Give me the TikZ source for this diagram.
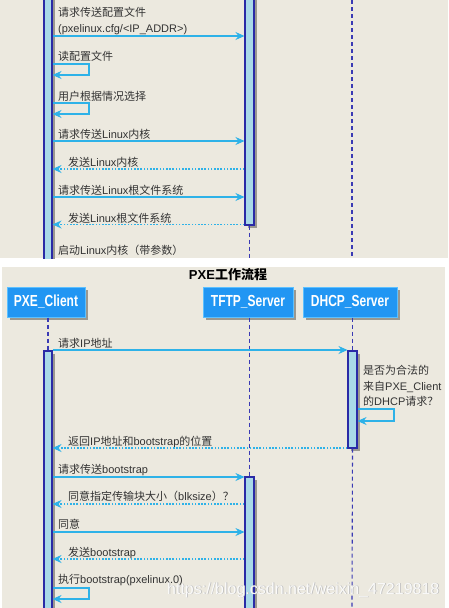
\documentclass[tikz,border=0pt]{standalone}
\usepackage{fontspec}
\setmainfont{Liberation Sans}
\newfontfamily\cjk{Noto Sans CJK SC}
\newfontfamily\boxfont{Liberation Sans}[FakeStretch=0.75]
\usetikzlibrary{arrows.meta,fit,shadows}
\definecolor{bg}{HTML}{ECE9DF}
\definecolor{msgc}{HTML}{2EB2E8}
\definecolor{barfill}{HTML}{A9D9E8}
\definecolor{bardraw}{HTML}{2A2AA6}
\definecolor{lifec}{HTML}{3A3AB4}
\definecolor{partfill}{HTML}{2196F3}
\definecolor{partdraw}{HTML}{5CC0FF}
\definecolor{txt}{HTML}{333333}
\definecolor{shadowc}{HTML}{9A9890}
\newcommand\zh[1]{{\cjk #1}}
\tikzset{
  lbl/.style={anchor=base west, inner sep=0pt, text=txt, font=\fontsize{11}{13}\selectfont},
  msg/.style={draw=msgc, line width=1.1pt, -{Stealth[length=9pt,width=8pt,inset=3pt]}},
  reply/.style={msg, dash pattern=on 1.6pt off 1.6pt},
  life/.style={draw=lifec, line width=1.1pt, dash pattern=on 4pt off 3pt},
  actbar/.style={draw=bardraw, fill=barfill, line width=1.1pt, inner sep=0pt},
  part/.style={draw=partdraw, fill=partfill, line width=1pt, text=white, inner sep=0pt,
    minimum height=30pt, font=\boxfont\bfseries\fontsize{16}{18}\selectfont,
    drop shadow={shadow xshift=3pt, shadow yshift=-3pt, fill=shadowc, opacity=1}},
  wmark/.style={anchor=base west, inner sep=0pt, font=\fontsize{16}{18}\selectfont}
}
\begin{document}
\begin{tikzpicture}[x=1pt,y=-1pt]
\useasboundingbox (0,0) rectangle (448,608);
\fill[white] (0,0) rectangle (448,608);
% ---------- top panel ----------
\fill[bg] (0,0) rectangle (448,258);
\begin{scope}
\clip (0,0) rectangle (448,258);
\fill[shadowc] (47,-7) rectangle (55,270);
\node[actbar, fit={(44,-10) (52,270)}] (cb1) {};
\fill[shadowc] (248,-7) rectangle (257,228);
\node[actbar, fit={(245,-10) (254,225)}] (tb1) {};
\coordinate (tl1) at (249.5,258);
\draw[life] (tb1.south) -- (tl1);
\coordinate (dl1a) at (352,0);
\coordinate (dl1b) at (352,258);
\draw[life] (dl1a) -- (dl1b);

\node[lbl] (t1a) at (58,16) {\zh{请求传送配置文件}};
\node[lbl] (t1b) at (58,32) {(pxelinux.cfg/<IP\_ADDR>)};
\draw[msg] (cb1.east |- 0,36) -- (tb1.west |- 0,36);
\node[lbl] (t2) at (58,60) {\zh{读配置文件}};
\draw[msg] (cb1.east |- 0,64) -- (89,64) -- (89,75) -- (cb1.east |- 0,75);
\node[lbl] (t3) at (58,100) {\zh{用户根据情况选择}};
\draw[msg] (cb1.east |- 0,103) -- (89,103) -- (89,114) -- (cb1.east |- 0,114);
\node[lbl] (t4) at (58,138) {\zh{请求传送}Linux\zh{内核}};
\draw[msg] (cb1.east |- 0,141) -- (tb1.west |- 0,141);
\node[lbl] (t5) at (68,166) {\zh{发送}Linux\zh{内核}};
\draw[reply] (tb1.west |- 0,169) -- (cb1.east |- 0,169);
\node[lbl] (t6) at (58,194) {\zh{请求传送}Linux\zh{根文件系统}};
\draw[msg] (cb1.east |- 0,197) -- (tb1.west |- 0,197);
\node[lbl] (t7) at (68,222) {\zh{发送}Linux\zh{根文件系统}};
\draw[reply] (tb1.west |- 0,224.5) -- (cb1.east |- 0,224.5);
\node[lbl] (t8) at (58,254) {\zh{启动}Linux\zh{内核（带参数）}};
\end{scope}
% ---------- bottom panel ----------
\fill[bg] (2,267) rectangle (445,608);
\begin{scope}
\clip (2,267) rectangle (445,608);
\node[anchor=base, inner sep=0pt, font=\bfseries\fontsize{13}{15}\selectfont] (title) at (228,279) {PXE\zh{工作流程}};
\node[part, minimum width=78pt] (pc) at (46,302) {PXE\_Client};
\node[part, minimum width=90pt] (ts) at (248,302) {TFTP\_Server};
\node[part, minimum width=94pt] (ds) at (350,302) {DHCP\_Server};

\fill[shadowc] (47,354) rectangle (55,620);
\node[actbar, fit={(44,351) (52,620)}] (cb2) {};
\fill[shadowc] (351,354) rectangle (360,451);
\node[actbar, fit={(348,351) (357,448)}] (db) {};
\fill[shadowc] (248,480) rectangle (257,620);
\node[actbar, fit={(245,477) (254,620)}] (tb2) {};
\coordinate (dl2) at (352,608);

\draw[life] (cb2.north |- pc.south) -- (cb2.north);
\draw[life] (tb2.north |- ts.south) -- (tb2.north);
\draw[life] (db.north |- ds.south) -- (db.north);
\draw[life] (db.south) -- (dl2);

\node[lbl] (m1) at (58,347) {\zh{请求}IP\zh{地址}};
\draw[msg] (cb2.east |- 0,350) -- (db.west |- 0,350);
\node[lbl] (n1) at (363,374) {\zh{是否为合法的}};
\node[lbl] (n2) at (363,390) {\zh{来自}PXE\_Client};
\node[lbl] (n3) at (363,405) {\zh{的}DHCP\zh{请求？}};
\draw[msg] (db.east |- 0,409) -- (394,409) -- (394,421) -- (db.east |- 0,421);
\node[lbl] (m2) at (68,445) {\zh{返回}IP\zh{地址和}bootstrap\zh{的位置}};
\draw[reply] (db.west |- 0,448) -- (cb2.east |- 0,448);
\node[lbl] (m3) at (58,473) {\zh{请求传送}bootstrap};
\draw[msg] (cb2.east |- 0,477) -- (tb2.west |- 0,477);
\node[lbl] (m4) at (68,500) {\zh{同意指定传输块大小（}blksize\zh{）？}};
\draw[reply] (tb2.west |- 0,504) -- (cb2.east |- 0,504);
\node[lbl] (m5) at (58,528) {\zh{同意}};
\draw[msg] (cb2.east |- 0,532) -- (tb2.west |- 0,532);
\node[lbl] (m6) at (68,556) {\zh{发送}bootstrap};
\draw[reply] (tb2.west |- 0,559) -- (cb2.east |- 0,559);
\node[lbl] (m7) at (58,583) {\zh{执行}bootstrap(pxelinux.0)};
\draw[msg] (cb2.east |- 0,588) -- (89,588) -- (89,599) -- (cb2.east |- 0,599);

\node[wmark, text=gray!55] (wm0) at (167.7,594.7) {https://blog.csdn.net/weixin\_47219818};
\node[wmark, text=white, opacity=0.9] (wm) at (167,594) {https://blog.csdn.net/weixin\_47219818};
\end{scope}
\end{tikzpicture}
\end{document}
